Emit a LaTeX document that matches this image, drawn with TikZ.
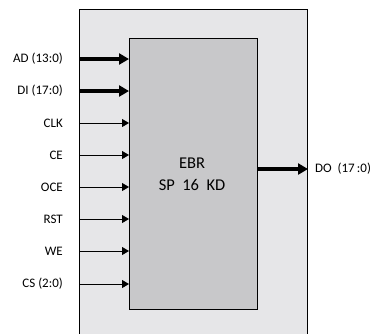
\documentclass[tikz,border=0pt]{standalone}
\usepackage{fontspec}
\setmainfont{Carlito}
\usetikzlibrary{arrows.meta, positioning}

\definecolor{framegray}{HTML}{E6E6E8}
\definecolor{ebrgray}{HTML}{C8C8CA}

\begin{document}
\begin{tikzpicture}[x=1pt, y=-1pt,
    busin/.style={line width=3.6pt, -{Triangle[length=10pt, width=11pt]}},
    sigin/.style={line width=0.9pt, -{Triangle[length=7pt, width=8pt]}},
    pinlabel/.style={anchor=east, inner sep=0pt, font=\fontsize{13}{15}\selectfont}]
  \useasboundingbox (0,0) rectangle (374,333);
  \clip (0,0) rectangle (374,333);
  % outer frame and EBR block
  \node[draw, line width=1pt, fill=framegray, minimum width=228pt, minimum height=340pt,
        anchor=north west, inner sep=0pt] (frame) at (79,9) {};
  \node[draw, line width=1pt, fill=ebrgray, minimum width=128pt, minimum height=271pt,
        anchor=north west, inner sep=0pt] (ebr) at (129,38) {};
  \node[font=\fontsize{16.5}{22}\selectfont, align=center] (name) at (192,174)
    {EBR\\SP~~16~~KD};
  % bus inputs
  \node[pinlabel] (ad) at (63,59) {AD (13:0)};
  \node[pinlabel] (di) at (63,91) {DI (17:0)};
  \draw[busin] (frame.west |- ad) -- (ebr.west |- ad);
  \draw[busin] (di -| frame.west) -- (ebr.west |- di);
  % single inputs
  \foreach \sig/\txt/\y in {clk/CLK/123, ce/CE/155, oce/OCE/187, rst/RST/219, we/WE/251, cs/CS (2:0)/284} {
    \node[pinlabel] (\sig) at (63,\y) {\txt};
    \draw[sigin] (frame.west |- \sig) -- (ebr.west |- \sig);
  }
  % output
  \coordinate (doend) at (frame.east |- 0,169);
  \draw[busin] (ebr.east |- doend) -- (doend);
  \node[anchor=west, inner sep=0pt, font=\fontsize{13}{15}\selectfont] (do) at (315,169) {DO~~(17\,:0)};
\end{tikzpicture}
\end{document}
